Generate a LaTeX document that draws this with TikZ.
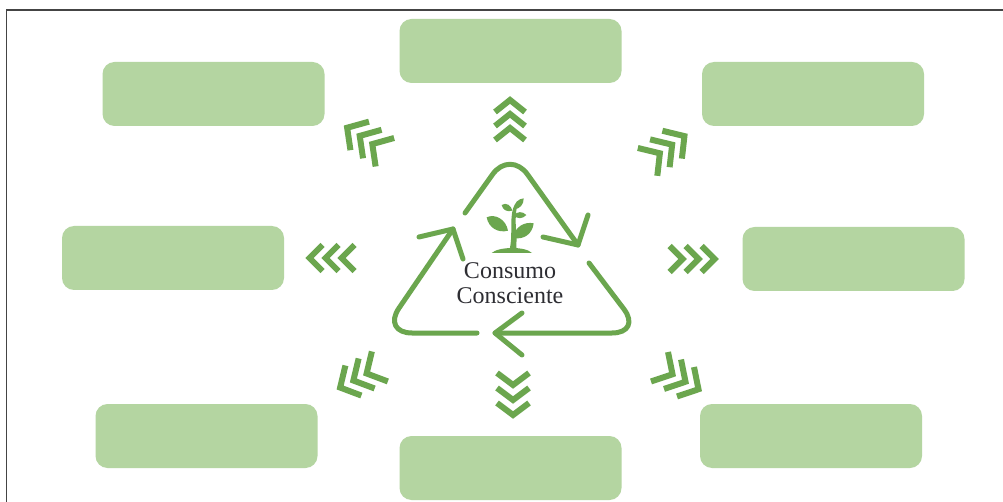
\documentclass[tikz,border=0pt]{standalone}
\usepackage{fontspec}
\setmainfont{Liberation Serif}
\definecolor{boxgreen}{HTML}{B4D5A1}
\definecolor{linegreen}{HTML}{6BA64E}
\definecolor{framegray}{HTML}{444444}
\definecolor{textgray}{HTML}{2E2E33}
\tikzset{
  greenbox/.style={fill=boxgreen,draw=none,rounded corners=12pt,minimum width=222pt,minimum height=64pt,inner sep=0pt},
  ringline/.style={draw=linegreen,line width=5pt,line cap=round,line join=round},
  chevline/.style={draw=linegreen,line width=6pt,line cap=butt,line join=miter},
  leaf/.style={fill=linegreen,draw=none},
  framerule/.style={draw=framegray,line width=1.6pt},
  centrelabel/.style={font=\fontsize{24}{25}\selectfont,text=textgray,align=center,inner sep=0pt}
}
% x, y, rotation, depth, half width, spacing
\newcommand{\chevtrio}[6]{%
  \begin{scope}[shift={(#1,#2)},rotate=#3]
    \foreach \s in {-1,0,1}{
      \draw[chevline] ({\s*#6-#4/2},{-#5}) -- ({\s*#6+#4/2},0) -- ({\s*#6-#4/2},#5);
    }
  \end{scope}}
\begin{document}
\begin{tikzpicture}[x=1pt,y=-1pt]
\useasboundingbox (0,0) rectangle (1003,502);
\fill[white] (0,0) rectangle (1003,502);
\coordinate (frameBL) at (6.5,502);
\coordinate (frameTL) at (6.5,10);
\coordinate (frameTR) at (1003,10);
\draw[framerule] (frameBL) -- (frameTL) -- (frameTR);

\node[greenbox] (top) at (510.5,51) {};
\node[greenbox] (upleft) at (213.5,94) {};
\node[greenbox] (upright) at (813,94) {};
\node[greenbox] (midleft) at (173,258) {};
\node[greenbox] (midright) at (853.5,259) {};
\node[greenbox] (lowleft) at (206.5,436) {};
\node[greenbox] (lowright) at (811,436) {};
\node[greenbox] (bottom) at (510.5,468) {};

\chevtrio{510}{120}{90}{12}{15}{14}
\chevtrio{513}{394}{-90}{12}{16}{15}
\chevtrio{332}{258}{180}{13}{13}{16}
\chevtrio{692}{259}{0}{13}{13}{16}
\chevtrio{366}{140}{147}{15}{17}{15}
\chevtrio{666}{149}{35}{15}{17}{15}
\chevtrio{360}{377}{208}{15}{17}{15}
\chevtrio{679}{378}{-30}{15}{17}{15}

% recycling triangle
\coordinate (apex) at (510,150);
\coordinate (cornerR) at (642,333);
\coordinate (cornerL) at (382,333);
\coordinate (tipA) at (578,245);
\coordinate (tipB) at (495,333);
\coordinate (tipC) at (453,229);
\draw[ringline,rounded corners=30pt] (465,213) -- (apex) -- (tipA);
\draw[ringline] (588,215) -- (tipA) -- (543,237);
\draw[ringline,rounded corners=30pt] (589,263) -- (cornerR) -- (tipB);
\draw[ringline] (522,313) -- (tipB) -- (522,355);
\draw[ringline,rounded corners=30pt] (477,333) -- (cornerL) -- (tipC);
\draw[ringline] (419,237) -- (tipC) -- (463,259);

% plant
\begin{scope}[shift={(370,130)},scale=1/3]
  \fill[leaf] (365,369) .. controls (385,350) and (465,348) .. (486,369) -- cycle;
  \fill[leaf] (419,358) .. controls (428,320) and (420,270) .. (428,240) .. controls (432,225) and (436,222) .. (440,218)
     -- (444,220) .. controls (438,235) and (434,270) .. (440,315) .. controls (440,335) and (438,350) .. (440,358) -- cycle;
  \fill[leaf] (350,262) .. controls (375,250) and (408,268) .. (414,302) .. controls (385,310) and (356,294) .. (350,262) -- cycle;
  \fill[leaf] (491,280) .. controls (465,274) and (433,290) .. (430,324) .. controls (462,330) and (487,312) .. (491,280) -- cycle;
  \fill[leaf] (395,225) .. controls (408,216) and (424,226) .. (427,242) .. controls (411,247) and (398,240) .. (395,225) -- cycle;
  \fill[leaf] (461,205) .. controls (445,206) and (430,220) .. (433,238) .. controls (449,237) and (462,223) .. (461,205) -- cycle;
  \fill[leaf] (469,255) .. controls (458,243) and (440,244) .. (432,256) .. controls (442,268) and (458,267) .. (469,255) -- cycle;
\end{scope}

\node[centrelabel] (label) at (510,283) {Consumo\\Consciente};
\end{tikzpicture}
\end{document}
